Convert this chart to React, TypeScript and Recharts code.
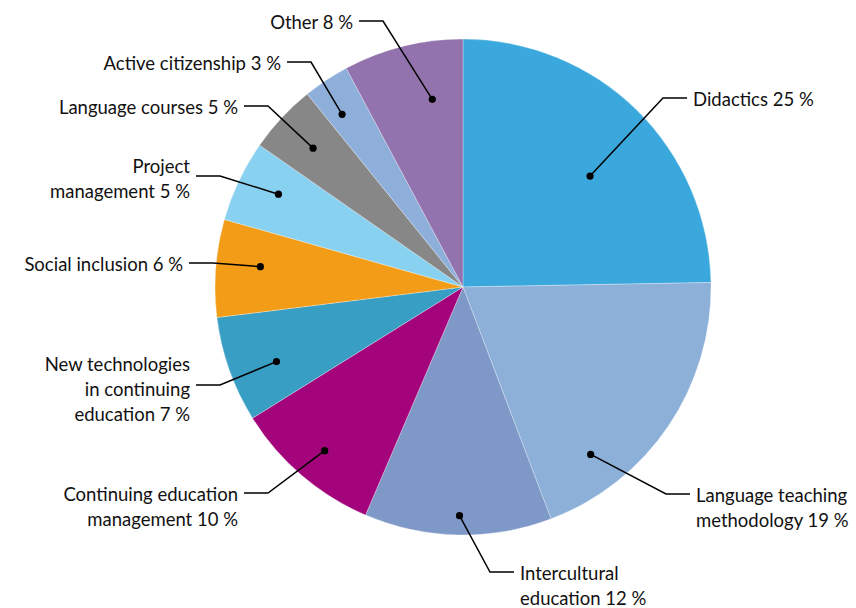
import React from 'react';
import { PieChart, Pie, Cell } from 'recharts';

const topics = [
  'Didactics',
  'Language teaching methodology',
  'Intercultural education',
  'Continuing education management',
  'New technologies in continuing education',
  'Social inclusion',
  'Project management',
  'Language courses',
  'Active citizenship',
  'Other',
];
// shares
const shares = [24.7, 19.5, 12.2, 9.7, 6.9, 6.35, 5.3, 4.5, 3.0, 7.8];
const colors = [
  '#3aa8dc',
  '#8cb0d8',
  '#7e98c8',
  '#a3037b',
  '#389ec3',
  '#f39c17',
  '#89d1f1',
  '#878787',
  '#8dafda',
  '#9373ae',
];
// text lines shown next to each slice
const labelLines = [
  ['Didactics 25 %'],
  ['Language teaching', 'methodology 19 %'],
  ['Intercultural', 'education 12 %'],
  ['Continuing education', 'management 10 %'],
  ['New technologies', 'in continuing', 'education 7 %'],
  ['Social inclusion 6 %'],
  ['Project', 'management 5 %'],
  ['Language courses 5 %'],
  ['Active citizenship 3 %'],
  ['Other 8 %'],
];

// leader layout: dot radius ratio, dot angle shift, elbow point, side, line the leader points at
const leaders = [
  { r: 0.68, shift: -4.4, ex: 663, ey: 98, side: 1, at: 0 },
  { r: 0.849, shift: -18.6, ex: 666, ey: 494, side: 1, at: 0 },
  { r: 0.922, shift: 0.3, ex: 490, ey: 572, side: 1, at: 0 },
  { r: 0.864, shift: 0.4, ex: 268, ey: 493, side: -1, at: 0 },
  { r: 0.81, shift: 2.3, ex: 220, ey: 385, side: -1, at: 0.9 },
  { r: 0.821, shift: -1.35, ex: 213, ey: 263, side: -1, at: 0 },
  { r: 0.833, shift: -1.35, ex: 220, ey: 176, side: -1, at: 0.45 },
  { r: 0.824, shift: 0.2, ex: 268, ey: 106, side: -1, at: 0 },
  { r: 0.85, shift: 1.5, ex: 311, ey: 62, side: -1, at: 0 },
  { r: 0.767, shift: -4.75, ex: 383, ey: 21, side: -1, at: 0 },
];

const data = topics.map((name, i) => ({ name, value: shares[i] }));

const RAD = Math.PI / 180;
const LINE_H = 25;

function renderLabel(props: any) {
  const { cx, cy, midAngle, outerRadius, index } = props;
  const l = leaders[index];
  const a = (midAngle + l.shift) * RAD;
  const dx = cx + outerRadius * l.r * Math.cos(a);
  const dy = cy - outerRadius * l.r * Math.sin(a);
  const hx = l.ex + l.side * 24;
  const tx = hx + l.side * 6;
  const lines = labelLines[index];
  const firstY = l.ey - l.at * LINE_H + 1;
  return (
    <g key={`lbl-${index}`}>
      <polyline
        points={`${dx},${dy} ${l.ex},${l.ey} ${hx},${l.ey}`}
        fill="none"
        stroke="#000"
        strokeWidth={1.5}
      />
      <circle cx={dx} cy={dy} r={3.6} fill="#000" />
      <text
        x={tx}
        y={firstY}
        textAnchor={l.side > 0 ? 'start' : 'end'}
        dominantBaseline="central"
        fontSize={18.5}
        fontFamily="Lato, 'Open Sans', sans-serif"
        fill="#111"
      >
        {lines.map((t, j) => (
          <tspan key={j} x={tx} y={firstY + j * LINE_H}>
            {t}
          </tspan>
        ))}
      </text>
    </g>
  );
}

export default function App() {
  return (
    <div style={{ position: 'absolute', left: 0, top: 0, width: 856, height: 608, background: '#fff' }}>
      <PieChart width={856} height={608} margin={{ top: 0, right: 0, bottom: 0, left: 0 }}>
        <Pie
          data={data}
          dataKey="value"
          nameKey="name"
          cx={463}
          cy={287}
          outerRadius={248}
          startAngle={90}
          endAngle={-270}
          stroke="#fff"
          strokeWidth={0.3}
          label={renderLabel}
          labelLine={false}
          isAnimationActive={false}
        >
          {data.map((d, i) => (
            <Cell key={d.name} fill={colors[i]} />
          ))}
        </Pie>
      </PieChart>
    </div>
  );
}
